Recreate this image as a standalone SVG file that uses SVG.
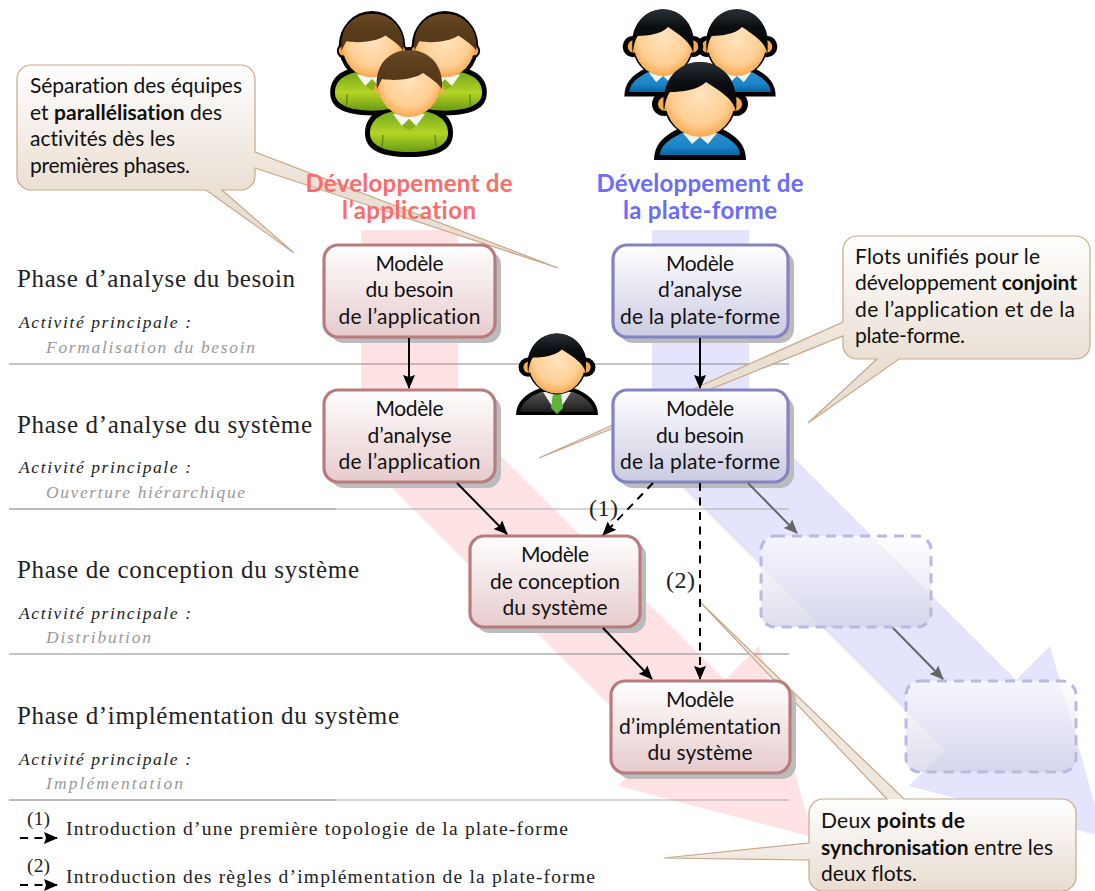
<svg xmlns="http://www.w3.org/2000/svg" width="1095" height="891" viewBox="0 0 1095 891">
<style>
text{font-family:Lato,"Open Sans",sans-serif;fill:#111;font-variant-ligatures:none}
.n{font-size:21px;text-anchor:middle}
.c{font-size:21px}
.h{font-size:24px;font-weight:700;text-anchor:middle}
.ph{font-family:"Liberation Serif",serif;font-size:25px;fill:#222}
.ac{font-family:"Liberation Serif",serif;font-style:italic;font-size:17.500px;fill:#222}
.su{font-family:"Liberation Serif",serif;font-style:italic;font-size:17.500px;fill:#999}
.lg{font-family:"Liberation Serif",serif;font-size:19.500px;fill:#222}
.lb{font-family:"Liberation Serif",serif;font-size:24px;fill:#222}
.rb{stroke:#b97c7e;stroke-width:3.200;fill:url(#rg)}
.bb{stroke:#8383c2;stroke-width:3.200;fill:url(#bg)}
.sh{fill:#bbb}
.gh{stroke:#b9b9e2;stroke-width:3;stroke-dasharray:10 7;fill:url(#ghg)}
.co{stroke:#c8a888;stroke-width:1.200}
.ar{stroke:#000;stroke-width:2;fill:none}
.da{stroke-dasharray:8 6.500}
.gr{stroke:#666}
</style>
<defs>
<linearGradient id="rg" x1="0" y1="0" x2="0" y2="1"><stop offset="0" stop-color="#fff"/><stop offset="1" stop-color="#e6cbcc"/></linearGradient>
<linearGradient id="bg" x1="0" y1="0" x2="0" y2="1"><stop offset="0" stop-color="#fff"/><stop offset="1" stop-color="#cbcbe2"/></linearGradient>
<linearGradient id="ghg" x1="0" y1="0" x2="0" y2="1"><stop offset="0" stop-color="#fff" stop-opacity=".65"/><stop offset="1" stop-color="#cfcfe6" stop-opacity=".7"/></linearGradient>
<linearGradient id="c1g" gradientUnits="userSpaceOnUse" x1="0" y1="65" x2="0" y2="190"><stop offset="0" stop-color="#fff"/><stop offset="1" stop-color="#eadfd3"/></linearGradient>
<linearGradient id="c2g" gradientUnits="userSpaceOnUse" x1="0" y1="236" x2="0" y2="359"><stop offset="0" stop-color="#fff"/><stop offset="1" stop-color="#eadfd3"/></linearGradient>
<linearGradient id="c3g" gradientUnits="userSpaceOnUse" x1="0" y1="602" x2="0" y2="891"><stop offset="0" stop-color="#efe7dd"/><stop offset=".68" stop-color="#efe7dd"/><stop offset=".682" stop-color="#fff"/><stop offset="1" stop-color="#e8dccf"/></linearGradient>
<radialGradient id="face" cx=".5" cy=".42" r=".58"><stop offset="0" stop-color="#ffe3bf"/><stop offset=".7" stop-color="#ffcf94"/><stop offset="1" stop-color="#f9a94f"/></radialGradient>
<linearGradient id="brown" x1="0" y1="0" x2="0" y2="1"><stop offset="0" stop-color="#6d4a25"/><stop offset=".25" stop-color="#5f401e"/><stop offset="1" stop-color="#4f3416"/></linearGradient>
<linearGradient id="blk" x1="0" y1="0" x2="0" y2="1"><stop offset="0" stop-color="#2a3036"/><stop offset=".4" stop-color="#0c0f12"/><stop offset="1" stop-color="#000"/></linearGradient>
<linearGradient id="grn" x1="0" y1="0" x2="0" y2="1"><stop offset="0" stop-color="#6fa51c"/><stop offset=".55" stop-color="#b4d426"/><stop offset="1" stop-color="#6a9a14"/></linearGradient>
<linearGradient id="blu" x1="0" y1="0" x2="0" y2="1"><stop offset="0" stop-color="#2c8fce"/><stop offset=".6" stop-color="#1a86c8"/><stop offset="1" stop-color="#08649f"/></linearGradient>
<linearGradient id="suit" x1="0" y1="0" x2="0" y2="1"><stop offset="0" stop-color="#555"/><stop offset="1" stop-color="#1c1c1c"/></linearGradient>
<marker id="ak" markerUnits="userSpaceOnUse" markerWidth="15" markerHeight="14" refX="13" refY="6.500" orient="auto"><path d="M0,0.500 L14,6.500 L0,12.500 L2,6.500Z" fill="#000"/></marker>
<marker id="ag" markerUnits="userSpaceOnUse" markerWidth="15" markerHeight="14" refX="13" refY="6.500" orient="auto"><path d="M0,0.500 L14,6.500 L0,12.500 L2,6.500Z" fill="#666"/></marker>
<g id="gSil" fill="#000">
<path d="M-44,48 C-44,32 -32,20 0,20 C32,20 44,32 44,48 C44,64 30,72 0,72 C-30,72 -44,64 -44,48Z"/>
<ellipse cx="0" cy="-1" rx="35" ry="37"/><circle cx="-29" cy="4" r="8"/><circle cx="29" cy="4" r="8"/>
</g>
<g id="gFill">
<path d="M-39,48 C-39,35 -28,25 0,25 C28,25 39,35 39,48 C39,60 26,67 0,67 C-26,67 -39,60 -39,48Z" fill="url(#grn)"/>
<path d="M-26,50 L-27,63 M26,50 L27,63" stroke="#5f8d12" stroke-width="1.500"/>
<path d="M-16,29 L-7,41 L0,34 L7,41 L16,29Z" fill="#f6f6f0"/>
<path d="M-7,41 L0,34 L7,41 L0,45Z" fill="#86b01c"/>
<circle cx="-30" cy="4" r="5" fill="#f6a94e"/><circle cx="30" cy="4" r="5" fill="#f6a94e"/>
<ellipse cx="0" cy="-1" rx="31" ry="33" fill="url(#face)"/>
<path d="M-32,4 C-35,-22 -18,-35 0,-35 C18,-35 35,-22 33,4 C28,-3 20,-8 14,-12 C4,-5 -15,-4 -27,-6 C-29,-3 -30,0 -32,4Z" fill="url(#brown)"/>
</g>
<g id="bSil" fill="#000">
<path d="M-46,60 C-46,46 -38,36 -20,28 L20,28 C38,36 46,46 46,60Z"/>
<ellipse cx="0" cy="0" rx="37" ry="38"/><circle cx="-36" cy="4" r="12"/><circle cx="36" cy="4" r="12"/>
</g>
<g id="bFill">
<path d="M-40,55 C-40,47 -33,40 -18,33 L18,33 C33,40 40,47 40,55Z" fill="url(#blu)"/>
<path d="M-17,33 L-8,44 L0,37 L8,44 L17,33Z" fill="#f6f6f0"/>
<circle cx="-35" cy="4" r="7" fill="#f6a94e"/><circle cx="35" cy="4" r="7" fill="#f6a94e"/>
</g>
<g id="bHead">
<ellipse cx="0" cy="0" rx="35" ry="37" fill="url(#face)"/>
<path d="M-36,12 C-40,-20 -22,-38 0,-38 C22,-38 40,-20 36,12 C34,0 22,-8 6,-18 C-2,-10 -18,-8 -30,-8 C-33,-4 -35,2 -36,12Z" fill="url(#blk)"/>
</g>
</defs>
<rect width="1095" height="891" fill="#fff"/>

<g id="flows">
<polygon id="flow-app" points="361,230 458,230 458,413 725,680 759,646 813,837 618,786 654,750 361,457" fill="#fee2e4"/>
<polygon id="flow-plat" points="652,230 749,230 749,413 1016,680 1050,646 1104,837 909,786 945,750 652,457" fill="#e4e4fc"/>
</g>

<g id="rules" fill="none">
<path d="M9,364H789" stroke="#888"/>
<path d="M9,509H336" stroke="#777"/><path d="M336,509H789" stroke="#aaa"/>
<path d="M9,654H789" stroke="#888"/>
<path d="M9,800H336" stroke="#777"/><path d="M336,800H789" stroke="#aaa"/>
</g>

<g id="callout-1">
<path class="co" fill="url(#c1g)" d="M31,65H241A14,14 0 0 1 255,79V152L558,268L255,168V176A14,14 0 0 1 241,190H222L294,253L206,190H31A14,14 0 0 1 17,176V79A14,14 0 0 1 31,65Z"/>
<text class="c" x="30" y="93" textLength="212">Séparation des équipes</text>
<text class="c" x="30" y="120" textLength="192">et <tspan font-weight="700">parallélisation</tspan> des</text>
<text class="c" x="30" y="146" textLength="145">activités dès les</text>
<text class="c" x="30" y="173" textLength="160">premières phases.</text>
</g>
<g id="callout-2">
<path class="co" fill="url(#c2g)" d="M857,236H1076A14,14 0 0 1 1090,250V345A14,14 0 0 1 1076,359H899L808,423L877,359H857A14,14 0 0 1 843,345V336L539,458L843,322V250A14,14 0 0 1 857,236Z"/>
<text class="c" x="855" y="264" textLength="185">Flots unifiés pour le</text>
<text class="c" x="855" y="290" textLength="222">développement <tspan font-weight="700">conjoint</tspan></text>
<text class="c" x="855" y="317" textLength="220">de l’application et de la</text>
<text class="c" x="855" y="343" textLength="110">plate-forme.</text>
</g>
<g id="callout-3">
<path class="co" fill="url(#c3g)" d="M823,799H887L700,602L904,799H1062A14,14 0 0 1 1076,813V877A14,14 0 0 1 1062,891H823A14,14 0 0 1 809,877V860L664,858L809,843V813A14,14 0 0 1 823,799Z"/>
<text class="c" x="821" y="828" textLength="144">Deux <tspan font-weight="700">points de</tspan></text>
<text class="c" x="821" y="855" textLength="232"><tspan font-weight="700">synchronisation</tspan> entre les</text>
<text class="c" x="821" y="881" textLength="96">deux flots.</text>
</g>

<g id="heads">
<text class="h" x="409" y="192" style="fill:#ff6b6b" textLength="207">Développement de</text>
<text class="h" x="409" y="219" style="fill:#ff6b6b" textLength="134">l’application</text>
<text class="h" x="700" y="192" style="fill:#6b6bff" textLength="207">Développement de</text>
<text class="h" x="700" y="219" style="fill:#6b6bff" textLength="154">la plate-forme</text>
</g>

<g id="node-r1"><rect class="sh" x="330" y="251" width="171" height="92" rx="14"/><rect class="rb" x="324" y="245" width="171" height="92" rx="14"/>
<text class="n" x="409.500" y="271" textLength="68">Modèle</text><text class="n" x="409.500" y="297" textLength="88">du besoin</text><text class="n" x="409.500" y="324" textLength="142">de l’application</text></g>
<g id="node-r2"><rect class="sh" x="330" y="396" width="171" height="92" rx="14"/><rect class="rb" x="324" y="390" width="171" height="92" rx="14"/>
<text class="n" x="409.500" y="416" textLength="68">Modèle</text><text class="n" x="409.500" y="443" textLength="84">d’analyse</text><text class="n" x="409.500" y="469" textLength="142">de l’application</text></g>
<g id="node-b1"><rect class="sh" x="619" y="251" width="175" height="92" rx="14"/><rect class="bb" x="613" y="245" width="175" height="92" rx="14"/>
<text class="n" x="700" y="271" textLength="68">Modèle</text><text class="n" x="700" y="297" textLength="84">d’analyse</text><text class="n" x="700" y="324" textLength="160">de la plate-forme</text></g>
<g id="node-b2"><rect class="sh" x="619" y="396" width="175" height="92" rx="14"/><rect class="bb" x="613" y="390" width="175" height="92" rx="14"/>
<text class="n" x="700" y="416" textLength="68">Modèle</text><text class="n" x="700" y="443" textLength="88">du besoin</text><text class="n" x="700" y="469" textLength="160">de la plate-forme</text></g>
<g id="node-r3"><rect class="sh" x="476" y="542" width="170" height="91" rx="14"/><rect class="rb" x="470" y="536" width="170" height="91" rx="14"/>
<text class="n" x="555" y="562" textLength="68">Modèle</text><text class="n" x="555" y="589" textLength="130">de conception</text><text class="n" x="555" y="615" textLength="105">du système</text></g>
<g id="node-r4"><rect class="sh" x="617" y="687" width="179" height="92" rx="14"/><rect class="rb" x="611" y="681" width="179" height="92" rx="14"/>
<text class="n" x="700" y="707" textLength="68">Modèle</text><text class="n" x="700" y="734" textLength="162">d’implémentation</text><text class="n" x="700" y="760" textLength="105">du système</text></g>
<g id="node-g1"><rect class="gh" x="761" y="536" width="170" height="91" rx="14"/></g>
<g id="node-g2"><rect class="gh" x="906" y="681" width="170" height="91" rx="14"/></g>

<g id="connectors">
<path class="ar" marker-end="url(#ak)" d="M409,338V388"/>
<path class="ar" marker-end="url(#ak)" d="M700,338V388"/>
<path class="ar" marker-end="url(#ak)" d="M457,483L507,534"/>
<path class="ar" marker-end="url(#ak)" d="M603,628L652,679"/>
<path class="ar da" marker-end="url(#ak)" d="M653,483L603,535"/>
<path class="ar da" marker-end="url(#ak)" d="M700,483V679"/>
<path class="ar gr" marker-end="url(#ag)" d="M748,483L797,533"/>
<path class="ar gr" marker-end="url(#ag)" d="M893,628L943,679"/>
</g>
<g id="connector-labels">
<text class="lb" x="589" y="516" textLength="29">(1)</text>
<text class="lb" x="666" y="588" textLength="29">(2)</text>
</g>

<g id="team-app">
<use href="#gSil" x="409" y="85"/>
<g transform="translate(445,47) scale(.95)"><use href="#gSil"/><use href="#gFill"/></g>
<g transform="translate(372,47) scale(.95)"><use href="#gSil"/><use href="#gFill"/></g>
<use href="#gFill" x="409" y="85"/>
</g>
<g id="team-plat">
<use href="#bSil" x="700" y="100"/>
<g transform="translate(737,43) scale(.84,.89)"><use href="#bSil"/><use href="#bFill"/><use href="#bHead"/></g>
<g transform="translate(663,43) scale(.84,.89)"><use href="#bSil"/><use href="#bFill"/><use href="#bHead"/></g>
<use href="#bFill" x="700" y="100"/><use href="#bHead" x="700" y="100"/>
</g>
<g id="manager">
<path d="M516,415 C516,402 526,393 541,388 L573,388 C588,393 598,402 598,415Z" fill="#000"/>
<path d="M520,412 C521,403 530,396 541,392 L573,392 C584,396 593,403 594,412Z" fill="url(#suit)"/>
<path d="M543,392 L557,414 L571,392Z" fill="#f2f2f2"/>
<path d="M553,393 H561 L563,408 L557,414 L551,408Z" fill="#5db53a"/>
<g transform="translate(557,364) scale(.8)"><ellipse rx="37" ry="38" fill="#000"/><circle cx="-36" cy="4" r="12" fill="#000"/><circle cx="36" cy="4" r="12" fill="#000"/><circle cx="-35" cy="4" r="7" fill="#f6a94e"/><circle cx="35" cy="4" r="7" fill="#f6a94e"/><use href="#bHead"/></g>
</g>

<g id="phases">
<text class="ph" x="17" y="287" textLength="278">Phase d’analyse du besoin</text>
<text class="ac" x="19" y="328" textLength="172">Activité principale :</text>
<text class="su" x="46" y="353" textLength="209">Formalisation du besoin</text>
<text class="ph" x="17" y="433" textLength="295">Phase d’analyse du système</text>
<text class="ac" x="19" y="473" textLength="172">Activité principale :</text>
<text class="su" x="46" y="498" textLength="199">Ouverture hiérarchique</text>
<text class="ph" x="17" y="578" textLength="342">Phase de conception du système</text>
<text class="ac" x="19" y="619" textLength="172">Activité principale :</text>
<text class="su" x="46" y="643" textLength="105">Distribution</text>
<text class="ph" x="17" y="724" textLength="382">Phase d’implémentation du système</text>
<text class="ac" x="19" y="765" textLength="172">Activité principale :</text>
<text class="su" x="46" y="789" textLength="137">Implémentation</text>
</g>

<g id="legend">
<text class="lg" x="27" y="825" textLength="23">(1)</text>
<path class="ar da" marker-end="url(#ak)" d="M20,838H57"/>
<text class="lg" x="66" y="835" textLength="502">Introduction d’une première topologie de la plate-forme</text>
<text class="lg" x="27" y="872" textLength="23">(2)</text>
<path class="ar da" marker-end="url(#ak)" d="M20,885H57"/>
<text class="lg" x="66" y="883" textLength="529">Introduction des règles d’implémentation de la plate-forme</text>
</g>
</svg>
